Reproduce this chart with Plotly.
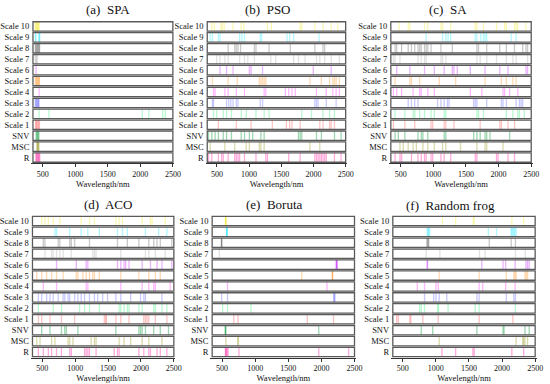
import plotly.graph_objects as go

# ---------------- data (wavelengths in nm of selected variables) ----------------
ROW_LABELS = ["Scale 10", "Scale 9", "Scale 8", "Scale 7", "Scale 6", "Scale 5",
              "Scale 4", "Scale 3", "Scale 2", "Scale 1", "SNV", "MSC", "R"]
ROW_COLORS = ["rgba(240,230,0,0.3)", "rgba(0,225,255,0.3)", "rgba(60,60,60,0.28)",
              "rgba(150,150,150,0.28)", "rgba(190,0,255,0.3)", "rgba(255,130,0,0.3)",
              "rgba(255,0,255,0.28)", "rgba(60,60,255,0.28)", "rgba(0,230,90,0.28)",
              "rgba(255,40,40,0.28)", "rgba(0,150,50,0.38)", "rgba(140,140,0,0.33)",
              "rgba(255,0,150,0.33)"]
PANEL_TITLES = ["(a)  SPA", "(b)  PSO", "(c)  SA", "(d)  ACO", "(e)  Boruta", "(f)  Random frog"]
X_TICKS = [500, 1000, 1500, 2000, 2500]

spa = {
    "Scale 10": [385, 395, 405, 415, 425, 435, 445],
    "Scale 9": [388, 395, 440, 448, 455],
    "Scale 8": [385, 395, 405, 415, 425, 435, 445, 452],
    "Scale 7": [385, 395, 405, 420],
    "Scale 6": [398],
    "Scale 5": [388, 398, 408, 420, 432, 442, 450],
    "Scale 4": [445],
    "Scale 3": [385, 395, 405, 415, 425, 435, 442],
    "Scale 2": [445, 595, 2030, 2130, 2345, 2385],
    "Scale 1": [390, 400, 412, 425, 438, 450],
    "SNV": [400, 410, 420, 432, 442],
    "MSC": [410, 418, 426, 434, 440],
    "R": [395, 405, 415, 425, 435, 445, 455],
}
pso = {
    "Scale 10": [421, 462, 563, 584, 614, 751, 878, 919, 1285, 1346, 1793, 1818, 2021, 2148, 2275, 2377],
    "Scale 9": [396, 431, 523, 548, 853, 888, 929, 1173, 1193, 1590, 1630, 1691, 2087],
    "Scale 8": [675, 777, 802, 828, 868, 1082, 1107, 1310, 1640, 2021, 2148, 2174],
    "Scale 7": [497, 548, 624, 675, 853, 929, 980, 1082, 1336, 1412, 1691, 1767, 1869, 2047, 2098, 2174, 2275, 2402],
    "Scale 6": [548, 650, 751, 1005, 1031, 1209, 1996, 2275],
    "Scale 5": [431, 675, 817, 1158, 1183, 1209, 1234, 1259, 1945, 2123, 2250, 2301, 2326, 2352, 2402],
    "Scale 4": [447, 472, 624, 675, 802, 929, 1234, 1259, 1564, 1615, 1666, 1717, 2047, 2199, 2301, 2352, 2402],
    "Scale 3": [431, 447, 650, 685, 716, 751, 802, 828, 1173, 1209, 2021, 2047, 2072, 2199, 2352],
    "Scale 2": [447, 497, 599, 650, 726, 878, 955, 1107, 1234, 1310, 1818, 1970, 2148, 2250, 2326],
    "Scale 1": [523, 802, 1031, 1361, 1579, 1630, 1666, 1793, 2098, 2148, 2250, 2275, 2326],
    "SNV": [370, 421, 472, 523, 599, 650, 726, 878, 929, 1005, 1056, 1183, 1234, 1767, 1793, 1818, 2047, 2123, 2326, 2428],
    "MSC": [396, 624, 777, 955, 1005, 1158, 1183, 1234, 1945, 2098],
    "R": [370, 421, 523, 574, 599, 675, 777, 802, 828, 853, 929, 1107, 1259, 1285, 1615, 1793, 2021, 2047,
          2072, 2098, 2123, 2148, 2174, 2199, 2326, 2428],
}
sa = {
    "Scale 10": [475, 616, 641, 866, 916, 1117, 1142, 1267, 1643, 1668, 1768, 1968, 2093, 2119, 2244, 2269, 2294, 2419],
    "Scale 9": [891, 1142, 1192, 1227, 1267, 1643, 1668, 1728, 1768, 1793, 1818, 2194, 2269],
    "Scale 8": [415, 440, 515, 616, 666, 716, 766, 791, 816, 866, 891, 916, 966, 1117, 1292, 1668, 1693, 1818,
                2018, 2119, 2244, 2369, 2419, 2444],
    "Scale 7": [390, 415, 490, 766, 816, 866, 891, 1117, 1142, 1192, 1668, 1718, 1818, 1968, 2119, 2219, 2269, 2444],
    "Scale 6": [440, 641, 866, 1016, 1167, 1292, 1317, 1367, 1567, 1793, 2018, 2144, 2419, 2444],
    "Scale 5": [415, 641, 666, 791, 1091, 1342, 1793, 2043, 2119, 2219, 2269],
    "Scale 4": [390, 440, 515, 691, 791, 816, 916, 1016, 1567, 1743, 2068, 2093, 2169, 2294],
    "Scale 3": [616, 666, 716, 766, 1066, 1117, 1167, 1217, 1242, 1618, 1643, 1668, 1818, 2043, 2068, 2119,
                2269, 2319, 2344, 2369],
    "Scale 2": [415, 565, 691, 716, 791, 866, 966, 1016, 1167, 1192, 1668, 1693, 1768, 2119, 2219, 2294, 2319, 2394],
    "Scale 1": [390, 565, 716, 966, 991, 1167, 1192, 1317, 1718, 2018, 2043, 2144, 2244],
    "SNV": [415, 465, 565, 766, 816, 841, 916, 1167, 1192, 1618, 1668, 1718, 1793, 1818, 1868, 2169],
    "MSC": [490, 540, 616, 691, 741, 841, 916, 1016, 1142, 1192, 1417, 1668, 1793, 1818, 2068],
    "R": [415, 490, 515, 666, 766, 816, 866, 891, 966, 991, 1117, 1167, 1267, 1643, 1668, 1968, 1993, 2144, 2244],
}
aco = {
    "Scale 10": [490, 540, 591, 666, 766, 1091, 1217, 1292, 1618, 1668, 1718, 2018, 2144, 2169, 2369],
    "Scale 9": [691, 716, 916, 1091, 1192, 1367, 1643, 1718, 1793, 2068, 2269, 2394],
    "Scale 8": [515, 540, 741, 766, 916, 941, 991, 1217, 1643, 1793, 1968, 2119, 2194, 2244, 2294, 2469],
    "Scale 7": [540, 641, 666, 716, 766, 816, 941, 1267, 1292, 1317, 1693, 2068, 2119, 2219, 2369],
    "Scale 6": [716, 1016, 1167, 1192, 1643, 1693, 1743, 1768, 1818, 2018, 2144, 2244, 2319, 2469],
    "Scale 5": [415, 490, 565, 641, 716, 816, 1016, 1041, 1117, 1167, 1217, 1267, 1292, 1367, 1693, 1968,
                2119, 2219, 2294],
    "Scale 4": [515, 716, 1167, 1192, 1693, 2018, 2119, 2194, 2219, 2444],
    "Scale 3": [440, 490, 565, 616, 666, 741, 816, 841, 891, 916, 991, 1041, 1091, 1142, 1217, 1292, 1342,
                1417, 1492, 1618, 1693, 1843, 1993, 2043, 2068, 2319],
    "Scale 2": [440, 666, 791, 1066, 1142, 1217, 1367, 1668, 1693, 1743, 1793, 1818, 1968, 2018, 2194, 2219, 2319, 2394],
    "Scale 1": [440, 490, 616, 791, 991, 1442, 1467, 1470, 1618, 1693, 1818, 2043, 2068, 2093, 2119, 2219, 2394],
    "SNV": [490, 616, 791, 841, 866, 1041, 1618, 1968, 1993, 2018, 2068, 2194, 2294, 2419],
    "MSC": [415, 465, 641, 691, 891, 916, 966, 1242, 1292, 1317, 1668, 1743, 1843, 2018, 2119, 2319],
    "R": [440, 515, 591, 641, 716, 791, 916, 941, 1142, 1167, 1192, 1217, 1317, 1593, 1643, 1668, 1968, 2043,
          2119, 2144, 2244, 2294, 2394],
}
boruta = {
    "Scale 10": [550, 555, 558, 562],
    "Scale 9": [565, 570, 575, 580],
    "Scale 8": [490, 493, 496],
    "Scale 7": [459],
    "Scale 6": [2222, 2228, 2234, 2238],
    "Scale 5": [1703, 2163, 2167, 2171],
    "Scale 4": [582, 2084],
    "Scale 3": [493, 582, 2185, 2195, 2205],
    "Scale 2": [508, 582, 938],
    "Scale 1": [676, 740, 1787, 2183],
    "SNV": [548, 552, 556, 1960],
    "MSC": [557, 735, 748],
    "R": [550, 555, 567, 575, 592, 755, 1960, 2410],
}
random_frog = {
    "Scale 10": [1101, 1299, 1565, 1580, 2148, 2326],
    "Scale 9": [869, 880, 893, 903, 1793, 1916, 2138, 2150, 2165, 2180, 2195, 2212],
    "Scale 8": [864, 875, 885, 893, 1807, 2138, 2202],
    "Scale 7": [854, 1061, 1659, 1743, 2202, 2351],
    "Scale 6": [869, 875, 1694, 2015, 2054, 2197, 2361, 2385, 2410],
    "Scale 5": [1051, 1654, 2064, 2178, 2195, 2212, 2346, 2365, 2385],
    "Scale 4": [720, 829, 1002, 1036, 1654, 1708, 2054, 2197],
    "Scale 3": [829, 967, 1002, 1051, 1165, 1620, 1654, 2064, 2178, 2202],
    "Scale 2": [755, 780, 829, 1026, 1041, 1185, 1595, 1654, 2202],
    "Scale 1": [409, 434, 607, 622, 804, 1036, 1654, 2163],
    "SNV": [780, 953, 1620, 2015, 2030, 2346, 2410],
    "MSC": [1051, 2212, 2311, 2326, 2346, 2385],
    "R": [1091, 1299, 1560, 1580, 2148, 2326],
}
PANELS = [spa, pso, sa, aco, boruta, random_frog]

# ---------------- layout geometry (pixels) ----------------
W, H = 550, 384
X_MIN, X_MAX = 350, 2500
PAD_NM = 25
# left, right (pixel positions of 350 and 2500 nm), top, bottom of rows area
BOXES = [(29.5, 172, 21, 163), (207, 348, 21, 163), (394, 537, 21, 163),
         (29, 173, 215.5, 357.5), (212, 357, 215.5, 357.5), (396, 541, 215.5, 357.5)]
TITLE_POS = [(106, 10), (269, 10), (452, 10), (106, 204), (275, 204), (455, 205)]
FONT = "Liberation Serif"
HALF = 0.43

fig = go.Figure()
layout = dict(width=W, height=H, margin=dict(l=0, r=0, t=0, b=0),
              paper_bgcolor="white", plot_bgcolor="white", showlegend=False,
              barmode="overlay", bargap=0.2, shapes=[], annotations=[])

n = len(ROW_LABELS)
for p, (panel, box) in enumerate(zip(PANELS, BOXES)):
    left, right, top, bottom = box
    sc = (right - left) / (X_MAX - X_MIN)
    dl = left - PAD_NM * sc
    dr = right + PAD_NM * sc
    suf = "" if p == 0 else str(p + 1)
    xa, ya = "x" + suf, "y" + suf
    layout["xaxis" + suf] = dict(
        domain=[dl / W, dr / W], range=[X_MIN - PAD_NM, X_MAX + PAD_NM], anchor=ya,
        showline=True, linecolor="#333", linewidth=1, mirror=False,
        ticks="outside", ticklen=3, tickwidth=1, tickcolor="#333",
        tickvals=X_TICKS, ticktext=[str(v) for v in X_TICKS],
        tickfont=dict(family=FONT, size=8, color="#111"),
        showgrid=False, zeroline=False,
        title=dict(text="Wavelength/nm", font=dict(family=FONT, size=8.5, color="#111"), standoff=2),
    )
    layout["yaxis" + suf] = dict(
        domain=[1 - bottom / H, 1 - top / H], range=[-0.5, n - 0.5], anchor=xa,
        showline=False, showgrid=False, zeroline=False, ticks="",
        tickvals=[n - 1 - i for i in range(n)], ticktext=ROW_LABELS,
        tickfont=dict(family=FONT, size=8.5, color="#111"), ticklabelstandoff=1,
    )
    for i, label in enumerate(ROW_LABELS):
        yc = n - 1 - i
        wl = panel[label]
        fig.add_trace(go.Bar(
            x=wl, y=[2 * HALF] * len(wl), base=[yc - HALF] * len(wl), width=20,
            marker=dict(color=ROW_COLORS[i], line=dict(width=0)),
            xaxis=xa, yaxis=ya, hoverinfo="skip", showlegend=False))
        layout["shapes"].append(dict(
            type="rect", xref=xa, yref=ya, x0=X_MIN, x1=X_MAX, y0=yc - HALF, y1=yc + HALF,
            line=dict(color="#5a5a5a", width=1.3), fillcolor="rgba(0,0,0,0)", layer="above"))
    tx, ty = TITLE_POS[p]
    layout["annotations"].append(dict(
        text=PANEL_TITLES[p], x=tx / W, y=1 - ty / H, xref="paper", yref="paper",
        xanchor="center", yanchor="middle", showarrow=False,
        font=dict(family=FONT, size=13, color="#111")))

fig.update_layout(**layout)
fig.write_html("out.html", config={"displayModeBar": False},
               post_script="document.body.style.margin='0';document.body.style.overflow='hidden';")
